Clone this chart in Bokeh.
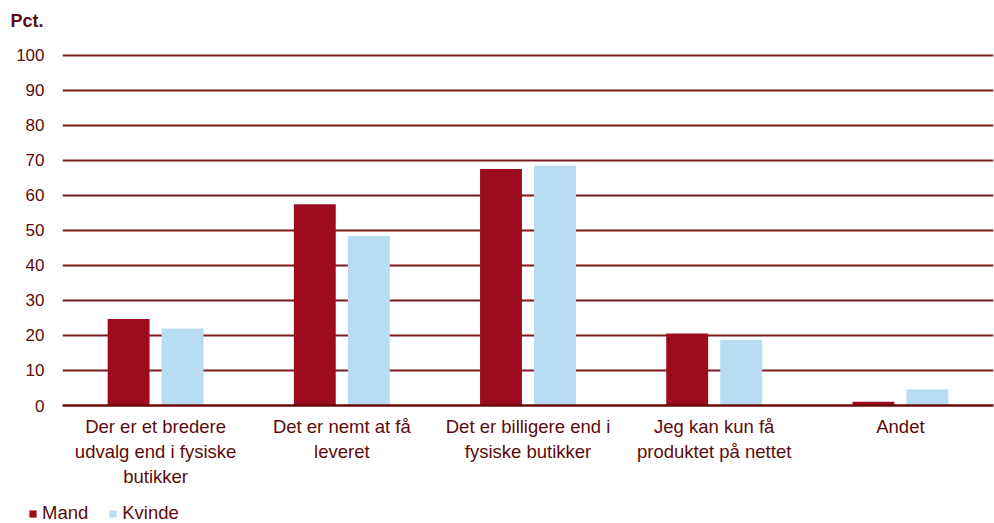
from bokeh.plotting import figure
from bokeh.layouts import column
from bokeh.models import (ColumnDataSource, FactorRange, Range1d, Legend, LegendItem,
                          Label, FixedTicker)
from bokeh.transform import dodge
from bokeh.embed import file_html
from bokeh.resources import INLINE

categories = ["Der er et bredere\nudvalg end i fysiske\nbutikker",
              "Det er nemt at få\nleveret",
              "Det er billigere end i\nfysiske butikker",
              "Jeg kan kun få\nproduktet på nettet",
              "Andet"]
mand = [24.7, 57.5, 67.6, 20.6, 1.1]
kvinde = [22.0, 48.4, 68.6, 18.7, 4.6]
y_ticks = [0, 10, 20, 30, 40, 50, 60, 70, 80, 90, 100]
series_names = ["Mand", "Kvinde"]

FONT = "Liberation Sans"
TXT = "#5c0b0b"
GRID = "#7a1a1a"
RED = "#9c0c1e"
BLUE = "#b8ddf2"
W = 994


def no_align(fig):
    try:
        fig.frame_align = False
    except Exception:
        pass


src = ColumnDataSource(dict(cat=categories, mand=mand, kvinde=kvinde))

# ---- top strip with the unit label ----
top = figure(width=W, height=35, x_range=Range1d(0, 1), y_range=Range1d(0, 1),
             x_axis_type=None, y_axis_type=None, output_backend="svg",
             toolbar_location=None, min_border=0)
top.outline_line_color = None
top.grid.visible = False
no_align(top)
top.add_layout(Label(x=10, y=15, x_units="screen", y_units="screen", text="Pct.",
                     text_font=FONT, text_font_size="18px", text_font_style="bold",
                     text_color=TXT, text_baseline="alphabetic"))

# ---- main chart ----
p = figure(x_range=FactorRange(*categories), y_range=Range1d(0, 100.57),
           width=W, height=460, output_backend="svg", toolbar_location=None,
           min_border_left=62, min_border_right=1, min_border_top=18, min_border_bottom=90)
p.outline_line_color = None
no_align(p)

p.vbar(x=dodge("cat", -0.145, range=p.x_range), top="mand", width=0.225, source=src,
       fill_color=RED, line_color=None)
p.vbar(x=dodge("cat", 0.145, range=p.x_range), top="kvinde", width=0.225, source=src,
       fill_color=BLUE, line_color=None)

p.xgrid.grid_line_color = None
p.ygrid.grid_line_color = GRID
p.ygrid.grid_line_width = 1.8
p.ygrid.ticker = FixedTicker(ticks=y_ticks)

p.yaxis.ticker = FixedTicker(ticks=y_ticks)
p.yaxis.axis_line_color = None
p.yaxis.major_tick_line_color = None
p.yaxis.major_tick_out = 0
p.yaxis.minor_tick_line_color = None
p.yaxis.major_label_standoff = 18
p.yaxis.major_label_text_font = FONT
p.yaxis.major_label_text_font_size = "17px"
p.yaxis.major_label_text_color = TXT

p.xaxis.axis_line_color = "#6a0a0a"
p.xaxis.axis_line_width = 2.5
p.xaxis.major_tick_line_color = None
p.xaxis.major_tick_out = 0
p.xaxis.minor_tick_line_color = None
p.xaxis.major_label_standoff = 10
p.xaxis.major_label_text_font = FONT
p.xaxis.major_label_text_font_size = "18.5px"
p.xaxis.major_label_text_color = TXT

# ---- legend strip (series kept out of view, only their legend swatches show) ----
leg = figure(width=W, height=28, x_range=FactorRange(*categories), y_range=Range1d(5000, 5001),
             x_axis_type=None, y_axis_type=None, output_backend="svg",
             toolbar_location=None, min_border=0)
leg.outline_line_color = None
leg.grid.visible = False
no_align(leg)
lr1 = leg.vbar(x="cat", top="mand", width=0.0005, source=src, fill_color=RED, line_color=None)
lr2 = leg.vbar(x="cat", top="kvinde", width=0.0005, source=src, fill_color=BLUE, line_color=None)
legend = Legend(items=[LegendItem(label=series_names[0], renderers=[lr1]),
                       LegendItem(label=series_names[1], renderers=[lr2])],
                orientation="horizontal", location=(28, -1),
                label_text_font=FONT, label_text_font_size="18.5px", label_text_color=TXT,
                glyph_width=9, glyph_height=9, label_standoff=5, spacing=20,
                label_height=20, padding=0, margin=0, border_line_color=None,
                background_fill_alpha=0)
leg.add_layout(legend, "center")

layout = column(top, p, leg, spacing=0)
open("out.html", "w").write(file_html(layout, INLINE))
